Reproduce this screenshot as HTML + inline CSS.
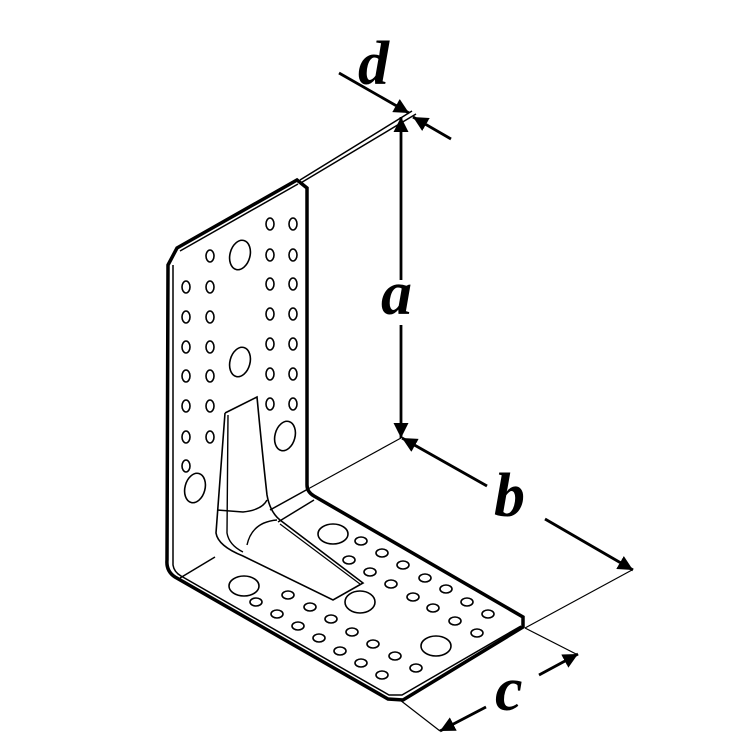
<!DOCTYPE html>
<html><head><meta charset="utf-8"><style>
html,body{margin:0;padding:0;background:#fff;}
svg{display:block;}
text{font-family:"Liberation Serif","Times New Roman",serif;font-weight:bold;font-style:italic;font-size:62px;fill:#000;}
</style></head><body>
<svg width="754" height="754" viewBox="0 0 754 754" xmlns="http://www.w3.org/2000/svg">
<defs>
<marker id="ar" viewBox="0 0 10 10" refX="10" refY="5" markerWidth="15" markerHeight="15" markerUnits="userSpaceOnUse" orient="auto"><path d="M0,0 L10,5 L0,10 z" fill="#000"/></marker>
</defs>
<g fill="none" stroke="#000">
<line x1="299" y1="184" x2="416" y2="114" stroke-width="1.5"/>
<line x1="300" y1="180" x2="412" y2="111" stroke-width="1.5"/>
<line x1="308" y1="489" x2="401" y2="438" stroke-width="1.2"/>
<line x1="525" y1="628" x2="632" y2="570" stroke-width="1.2"/>
<line x1="525" y1="628" x2="578" y2="655" stroke-width="1.2"/>
<line x1="400" y1="700" x2="440" y2="731" stroke-width="1.2"/>
<line x1="339" y1="73" x2="409" y2="113" stroke-width="2.8" marker-end="url(#ar)"/>
<line x1="451" y1="139" x2="413" y2="117" stroke-width="2.8" marker-end="url(#ar)"/>
<line x1="401" y1="280" x2="401" y2="117" stroke-width="2.8" marker-end="url(#ar)"/>
<line x1="401" y1="325" x2="401" y2="438" stroke-width="2.8" marker-end="url(#ar)"/>
<line x1="487" y1="486" x2="402" y2="438" stroke-width="2.8" marker-end="url(#ar)"/>
<line x1="545" y1="519" x2="633" y2="570" stroke-width="2.8" marker-end="url(#ar)"/>
<line x1="539" y1="675" x2="578" y2="654" stroke-width="2.8" marker-end="url(#ar)"/>
<line x1="486" y1="707" x2="440" y2="731" stroke-width="2.8" marker-end="url(#ar)"/>
<path d="M168,265 L177,248 L297,180 L307,188 L307,485 Q307,492 314,496 L523,617 L523,627 L403,700 L388,699 L175,577 Q166,571 167,560 Z" stroke-width="3.5" fill="#fff"/>
<path d="M173,265 L173,565 Q174,572 181,576 L389,695 L402,695 L521,626" stroke-width="1.5"/>
<path d="M180,251 L298,184" stroke-width="1.5"/>
<path d="M180,578 L215,557" stroke-width="1.5"/>
<path d="M270,510 L308,489" stroke-width="1.5"/>
<path d="M278,522 L314,500" stroke-width="1.5"/>
<path d="M225,413 L257,397 Q262,450 267,495 Q270,512 280,520 L363,583 L333,600 L243,556 Q218,546 216,533 L225,413" stroke-width="1.6"/>
<path d="M228,415 L227,533 Q229,545 243,552" stroke-width="1.4"/>
<path d="M217,510 L243,512 Q262,510 267,500" stroke-width="1.4"/>
<path d="M247,545 Q252,522 277,520" stroke-width="1.4"/>
<path d="M280,524 L360,584" stroke-width="1.2"/>
<g stroke-width="1.6">
<ellipse cx="240" cy="255" rx="10" ry="15" transform="rotate(15 240 255)"/>
<ellipse cx="240" cy="362" rx="10" ry="15" transform="rotate(15 240 362)"/>
<ellipse cx="285" cy="436" rx="10" ry="15" transform="rotate(15 285 436)"/>
<ellipse cx="195" cy="488" rx="10" ry="15" transform="rotate(15 195 488)"/>
<ellipse cx="210" cy="256" rx="4" ry="6"/>
<ellipse cx="210" cy="287" rx="4" ry="6"/>
<ellipse cx="210" cy="317" rx="4" ry="6"/>
<ellipse cx="210" cy="347" rx="4" ry="6"/>
<ellipse cx="210" cy="376" rx="4" ry="6"/>
<ellipse cx="210" cy="406" rx="4" ry="6"/>
<ellipse cx="210" cy="437" rx="4" ry="6"/>
<ellipse cx="186" cy="287" rx="4" ry="6"/>
<ellipse cx="186" cy="317" rx="4" ry="6"/>
<ellipse cx="186" cy="347" rx="4" ry="6"/>
<ellipse cx="186" cy="376" rx="4" ry="6"/>
<ellipse cx="186" cy="406" rx="4" ry="6"/>
<ellipse cx="186" cy="437" rx="4" ry="6"/>
<ellipse cx="186" cy="466" rx="4" ry="6"/>
<ellipse cx="270" cy="224" rx="4" ry="6"/>
<ellipse cx="270" cy="255" rx="4" ry="6"/>
<ellipse cx="270" cy="284" rx="4" ry="6"/>
<ellipse cx="270" cy="314" rx="4" ry="6"/>
<ellipse cx="270" cy="344" rx="4" ry="6"/>
<ellipse cx="270" cy="374" rx="4" ry="6"/>
<ellipse cx="270" cy="404" rx="4" ry="6"/>
<ellipse cx="293" cy="224" rx="4" ry="6"/>
<ellipse cx="293" cy="255" rx="4" ry="6"/>
<ellipse cx="293" cy="284" rx="4" ry="6"/>
<ellipse cx="293" cy="314" rx="4" ry="6"/>
<ellipse cx="293" cy="344" rx="4" ry="6"/>
<ellipse cx="293" cy="374" rx="4" ry="6"/>
<ellipse cx="293" cy="404" rx="4" ry="6"/>
<ellipse cx="333" cy="534" rx="15" ry="10"/>
<ellipse cx="244" cy="586" rx="15" ry="10"/>
<ellipse cx="360" cy="602" rx="15" ry="11"/>
<ellipse cx="436" cy="646" rx="15" ry="10"/>
<ellipse cx="361" cy="541" rx="6" ry="4"/><ellipse cx="382" cy="553" rx="6" ry="4"/><ellipse cx="403" cy="565" rx="6" ry="4"/><ellipse cx="425" cy="578" rx="6" ry="4"/><ellipse cx="446" cy="589" rx="6" ry="4"/><ellipse cx="467" cy="602" rx="6" ry="4"/><ellipse cx="488" cy="614" rx="6" ry="4"/>
<ellipse cx="349" cy="560" rx="6" ry="4"/><ellipse cx="370" cy="572" rx="6" ry="4"/><ellipse cx="391" cy="584" rx="6" ry="4"/><ellipse cx="413" cy="597" rx="6" ry="4"/><ellipse cx="433" cy="608" rx="6" ry="4"/><ellipse cx="455" cy="621" rx="6" ry="4"/><ellipse cx="477" cy="633" rx="6" ry="4"/>
<ellipse cx="288" cy="595" rx="6" ry="4"/><ellipse cx="310" cy="607" rx="6" ry="4"/><ellipse cx="331" cy="619" rx="6" ry="4"/><ellipse cx="352" cy="632" rx="6" ry="4"/><ellipse cx="373" cy="644" rx="6" ry="4"/><ellipse cx="395" cy="656" rx="6" ry="4"/><ellipse cx="416" cy="668" rx="6" ry="4"/>
<ellipse cx="256" cy="602" rx="6" ry="4"/><ellipse cx="277" cy="614" rx="6" ry="4"/><ellipse cx="298" cy="626" rx="6" ry="4"/><ellipse cx="319" cy="638" rx="6" ry="4"/><ellipse cx="340" cy="651" rx="6" ry="4"/><ellipse cx="361" cy="663" rx="6" ry="4"/><ellipse cx="382" cy="675" rx="6" ry="4"/>
</g>
</g>
<text x="358" y="84">d</text>
<text x="381" y="314">a</text>
<text x="494" y="516">b</text>
<text x="495" y="710">c</text>
</svg>
</body></html>
